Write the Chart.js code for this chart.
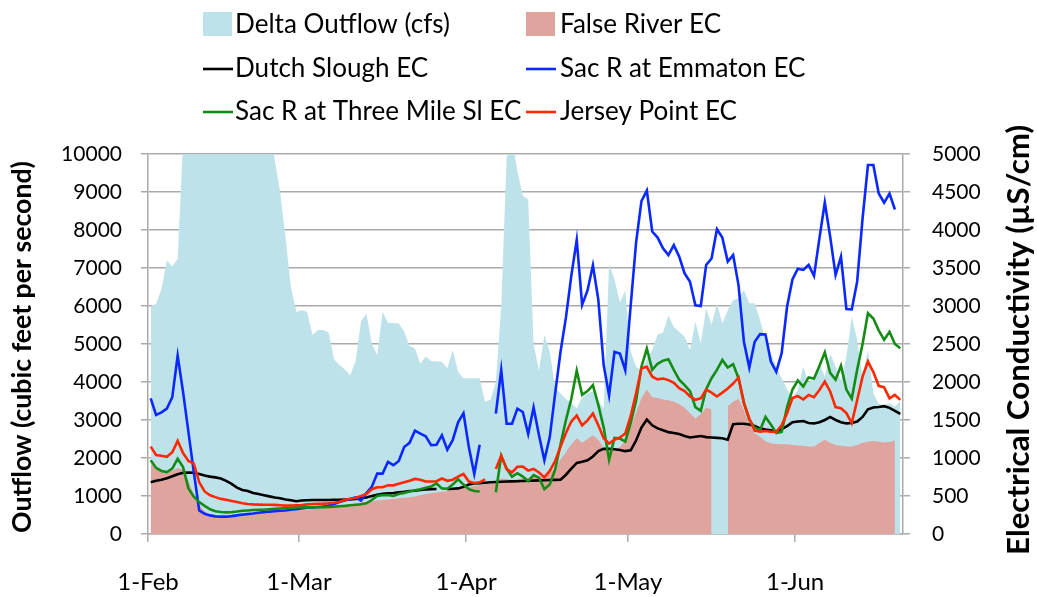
<!DOCTYPE html>
<html><head><meta charset="utf-8">
<script src="https://cdn.jsdelivr.net/npm/chart.js@4.4.1/dist/chart.umd.min.js"></script>
<style>html,body{margin:0;padding:0;background:#fff}#wrap{width:1037px;height:597px;position:relative}</style>
</head><body><div id="wrap"><canvas id="c" width="1037" height="597"></canvas></div>
<script>
// ---- tick labels / categories ----
const monthTickDays = [0, 28, 59, 89, 120];
const monthTickLabels = ['1-Feb', '1-Mar', '1-Apr', '1-May', '1-Jun'];
const seriesNames = ['Delta Outflow (cfs)', 'False River EC', 'Dutch Slough EC', 'Sac R at Emmaton EC', 'Sac R at Three Mile Sl EC', 'Jersey Point EC'];

// ---- daily values, 1-Feb .. 20-Jun ----
const deltaOutflow = [
6000,6050,6450,7200,7030,7250,10300,14000,16000,17500,
18500,19000,19500,19000,18500,18000,17000,16000,15000,14000,
13000,12000,10800,9850,9000,7800,6500,5850,5890,5850,
5240,5370,5370,5300,4600,4450,4330,4180,4550,5600,
5800,5000,4710,5850,5560,5550,5540,5330,4950,4880,
4480,4670,4550,4540,4530,4360,4840,4270,4100,4100,
4100,4100,3480,3530,4000,6000,9900,10400,9550,8900,
8800,5000,4300,5240,4800,3850,3700,3550,3450,3300,
3600,3700,3750,3500,3300,7100,6700,6100,6400,4800,
4400,4300,4600,4850,5250,5300,5750,5450,5320,5190,
4840,5590,5020,5940,5500,6070,5540,5890,6160,6200,
6420,6070,6070,5630,5100,4750,4400,4100,3800,3600,
3790,4400,3960,4140,4490,4140,4750,4400,4050,4670,
5720,5100,4140,4840,3700,3420,3390,3440,3350,3500];
const falseRiverEC = [
920,870,830,815,830,870,850,700,520,380,
300,250,235,225,220,220,225,232,240,250,
262,270,278,285,290,295,300,305,312,320,
328,335,340,348,355,365,375,385,395,410,
425,432,440,447,455,462,470,478,485,495,
510,525,535,545,555,565,580,595,610,620,
630,645,655,665,700,730,725,712,720,732,
745,752,740,760,800,870,980,1080,1180,1260,
1200,1250,1300,1240,1130,1090,1110,1140,1230,1400,
1600,1790,1900,1800,1790,1770,1760,1740,1710,1660,
1590,1520,1580,1660,1640,null,null,1680,1740,1780,
1630,1440,1330,1280,1220,1190,1185,1180,1180,1170,
1165,1160,1150,1150,1200,1240,1200,1170,1160,1150,
1150,1170,1200,1215,1225,1215,1205,1210,1230,null];
const dutchSloughEC = [
680,700,715,735,760,785,805,810,805,790,
770,755,745,730,700,660,610,580,565,540,
525,510,495,480,470,455,445,432,440,445,
447,447,447,448,450,450,452,455,460,470,
480,500,515,530,535,540,548,555,565,570,
580,585,590,592,null,590,595,600,620,650,
665,670,675,680,685,688,690,692,695,698,
700,702,705,708,710,712,715,780,860,935,
950,970,1020,1090,1120,1122,1115,1105,1090,1100,
1230,1400,1505,1430,1390,1365,1340,1330,1315,1290,
1270,1280,1290,1275,1270,1265,1260,1240,1445,1450,
1450,1440,1420,1390,1375,1365,1350,1380,1420,1470,
1480,1485,1460,1455,1470,1500,1540,1500,1470,1455,
1460,1480,1540,1640,1665,1672,1682,1660,1620,1580];
const emmatonEC = [
1785,1566,1600,1650,1800,2346,1870,1340,810,310,
265,245,232,228,228,235,245,255,262,270,
280,288,295,300,305,310,318,325,335,345,
350,355,360,375,395,420,440,460,480,440,
540,620,795,795,950,905,960,1145,1200,1360,
1320,1285,1170,1175,1300,1110,1235,1470,1590,1140,
790,1175,null,null,1585,2155,1450,1450,1650,1605,
1315,1665,1300,970,1275,1850,2400,2850,3400,3870,
3015,3205,3535,3085,2220,1825,2395,2375,2155,3000,
3830,4380,4520,3980,3900,3760,3670,3800,3650,3430,
3320,3010,3000,3540,3625,4010,3900,3585,3670,3275,
2530,2190,2530,2630,2625,2270,2135,2380,2990,3350,
3490,3475,3540,3395,3890,4360,3910,3410,3650,2960,
2955,3320,4150,4855,4855,4480,4360,4480,4270,null];
const threeMileEC = [
970,870,830,815,860,990,880,600,490,420,
370,325,300,290,285,288,295,305,310,315,
318,320,325,330,335,340,345,350,350,350,
350,352,354,356,360,365,370,378,385,392,
404,447,500,510,513,500,525,540,560,575,
590,610,625,665,600,595,650,720,650,590,
565,560,null,null,550,1030,860,755,800,755,
695,775,740,590,650,850,1180,1500,1780,2150,
1830,1880,1960,1700,1400,975,1265,1255,1215,1460,
1750,2200,2440,2160,2240,2280,2300,2160,2030,1960,
1880,1670,1620,1905,2050,2160,2290,2190,2235,2050,
1730,1500,1400,1370,1540,1440,1330,1345,1670,1900,
2020,1940,2060,2045,2210,2390,2120,2030,2215,1900,
1780,2160,2500,2905,2835,2680,2555,2660,2500,2445];
const jerseyPointEC = [
1150,1040,1030,1015,1075,1226,1065,960,925,680,
560,510,485,462,450,435,420,405,395,390,
387,385,385,383,378,374,375,378,382,390,
395,398,400,405,412,425,450,465,478,500,
526,590,615,615,640,640,660,680,700,725,
715,690,690,695,730,700,715,755,790,690,
670,680,720,null,855,1030,855,810,885,886,
835,855,810,745,830,960,1150,1330,1480,1560,
1430,1495,1585,1430,1260,1190,1240,1270,1320,1550,
1850,2180,2200,2070,2035,2045,2025,1990,1920,1880,
1810,1765,1785,1900,1860,1810,1860,1915,1980,2060,
1720,1520,1360,1345,1355,1345,1345,1430,1590,1790,
1815,1770,1830,1800,1895,2005,1875,1670,1655,1590,
1460,1760,2070,2270,2130,1950,1930,1785,1830,1765];

// ---- styles ----
const C_OUT = 'rgb(190,226,234)';
const C_FR = 'rgb(224,164,158)';
const C_DS = '#000000';
const C_EM = 'rgb(10,40,255)';
const C_TM = 'rgb(20,140,20)';
const C_JP = 'rgb(255,40,0)';
const GRID = 'rgb(170,170,170)';
const FONT = 'Lato';

// each daily value sits in the middle of its day (Excel date axis, between ticks)
const pts = arr => arr.map((v, i) => ({x: i + 0.5, y: v}));

const lineDs = (label, data, color, order) => ({
  label, data: pts(data), borderColor: color, backgroundColor: color,
  borderWidth: 2.6, pointRadius: 0, tension: 0, fill: false, yAxisID: 'y2', order, spanGaps: false
});

const fitFont = (ctx, text, weight, target) => {
  ctx.font = weight + ' 20px ' + FONT;
  return 20 * target / ctx.measureText(text).width;
};

const decorPlugin = {
  id: 'decor',
  afterDraw(chart) {
    const ctx = chart.ctx;
    ctx.save();
    // legend
    const legendSize = fitFont(ctx, seriesNames[0], 'normal', 215);
    ctx.font = 'normal ' + legendSize.toFixed(2) + 'px ' + FONT;
    ctx.textBaseline = 'middle';
    ctx.textAlign = 'left';
    const cols = [[203, 235], [526, 560]];
    const rows = [24, 68, 111];
    const kinds = ['box', 'box', 'line', 'line', 'line', 'line'];
    const colors = [C_OUT, C_FR, C_DS, C_EM, C_TM, C_JP];
    seriesNames.forEach((name, i) => {
      const [sx, tx] = cols[i % 2];
      const cy = rows[Math.floor(i / 2)];
      if (kinds[i] === 'box') {
        ctx.fillStyle = colors[i];
        ctx.fillRect(sx, cy - 12, 29, 24);
      } else {
        ctx.strokeStyle = colors[i];
        ctx.lineWidth = 2.6;
        ctx.beginPath(); ctx.moveTo(sx, cy + 1); ctx.lineTo(sx + 30, cy + 1); ctx.stroke();
      }
      ctx.fillStyle = '#000';
      ctx.fillText(name, tx, cy + 1);
    });
    // axis titles
    const lt = 'Outflow (cubic feet per second)';
    const rt = 'Electrical Conductivity (\u00B5S/cm)';
    ctx.textAlign = 'center';
    ctx.fillStyle = '#000';
    let s = fitFont(ctx, lt, 'bold', 372);
    ctx.font = 'bold ' + s.toFixed(2) + 'px ' + FONT;
    ctx.save(); ctx.translate(22, 347); ctx.rotate(-Math.PI / 2); ctx.fillText(lt, 0, 0); ctx.restore();
    s = fitFont(ctx, rt, 'bold', 430);
    ctx.font = 'bold ' + s.toFixed(2) + 'px ' + FONT;
    ctx.save(); ctx.translate(1019, 340); ctx.rotate(-Math.PI / 2); ctx.fillText(rt, 0, 0); ctx.restore();
    ctx.restore();
  }
};

new Chart(document.getElementById('c'), {
  type: 'line',
  data: {
    datasets: [
      {label: seriesNames[0], data: pts(deltaOutflow), borderColor: 'rgba(0,0,0,0)', borderWidth: 0,
       backgroundColor: C_OUT, fill: 'origin', pointRadius: 0, tension: 0, yAxisID: 'y', order: 10},
      {label: seriesNames[1], data: pts(falseRiverEC), borderColor: 'rgba(0,0,0,0)', borderWidth: 0,
       backgroundColor: C_FR, fill: 'origin', pointRadius: 0, tension: 0, yAxisID: 'y2', order: 9, spanGaps: false},
      lineDs(seriesNames[2], dutchSloughEC, C_DS, 4),
      lineDs(seriesNames[3], emmatonEC, C_EM, 3),
      lineDs(seriesNames[4], threeMileEC, C_TM, 2),
      lineDs(seriesNames[5], jerseyPointEC, C_JP, 1)
    ]
  },
  options: {
    responsive: false,
    devicePixelRatio: 1,
    animation: false,
    layout: {padding: {top: 154, left: 0, right: 0, bottom: 0}},
    plugins: {legend: {display: false}, tooltip: {enabled: false}},
    scales: {
      x: {
        type: 'linear', min: 0, max: 140,
        afterBuildTicks: s => { s.ticks = monthTickDays.map(v => ({value: v})); },
        afterFit: s => { s.height = 63; },
        ticks: {autoSkip: false, maxRotation: 0, color: '#000', padding: 26,
                font: {family: FONT, size: 24},
                callback: v => { const k = monthTickDays.indexOf(v); return k >= 0 ? monthTickLabels[k] : ''; }},
        grid: {drawOnChartArea: false, drawTicks: true, tickLength: 8, color: GRID, lineWidth: 1.5},
        border: {display: true, color: GRID, width: 1.5}
      },
      y: {
        position: 'left', min: 0, max: 10000,
        afterFit: s => { s.width = 148; },
        ticks: {stepSize: 1000, color: '#000', padding: 19, font: {family: FONT, size: 21},
                callback: v => String(v)},
        grid: {color: GRID, lineWidth: 1.5, tickLength: 7},
        border: {display: true, color: GRID, width: 1.5}
      },
      y2: {
        position: 'right', min: 0, max: 5000,
        afterFit: s => { s.width = 134; },
        ticks: {stepSize: 500, color: '#000', padding: 22, font: {family: FONT, size: 21},
                callback: v => String(v)},
        grid: {drawOnChartArea: false, color: GRID, lineWidth: 1.5, tickLength: 7},
        border: {display: true, color: GRID, width: 1.5}
      }
    }
  },
  plugins: [decorPlugin]
});
</script></body></html>
